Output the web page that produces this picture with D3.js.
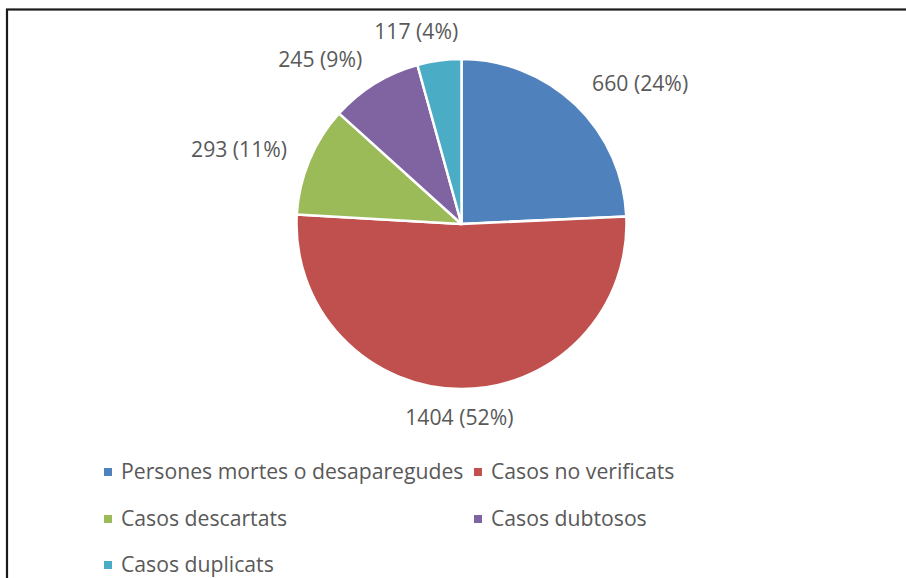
<!DOCTYPE html>
<html>
<head>
<meta charset="utf-8">
<script src="https://cdn.jsdelivr.net/npm/d3@7"></script>
<style>
  body { margin: 0; background: #fff; }
  svg text { font-family: "Open Sans", sans-serif; fill: #595959; }
</style>
</head>
<body>
<svg id="chart" width="906" height="578"></svg>
<script>
// data
const categories = ["Persones mortes o desaparegudes", "Casos no verificats", "Casos descartats", "Casos dubtosos", "Casos duplicats"];
const values = [660, 1404, 293, 245, 117];
const percentLabels = ["24%", "52%", "11%", "9%", "4%"];
const colors = ["#4F81BD", "#C0504D", "#9BBB59", "#8064A2", "#4BACC6"];

const svg = d3.select("#chart");
const cx = 461.5, cy = 224, radius = 165;
const fontSize = 21.2;

// frame border (only left and top show in the picture)
svg.append("rect")
  .attr("x", 7).attr("y", 9.5)
  .attr("width", 1000).attr("height", 1000)
  .attr("fill", "none")
  .attr("stroke", "#1a1a1a")
  .attr("stroke-width", 2.2);

const data = categories.map((c, i) => ({ name: c, value: values[i], pct: percentLabels[i], color: colors[i] }));

const pie = d3.pie().sort(null).value(d => d.value);
const arc = d3.arc().innerRadius(0).outerRadius(radius);

const chart = svg.append("g").attr("transform", `translate(${cx},${cy})`);

const arcs = pie(data);

chart.selectAll("path.slice")
  .data(arcs)
  .enter().append("path")
  .attr("class", "slice")
  .attr("d", arc)
  .attr("fill", d => d.data.color)
  .attr("stroke", "#fff")
  .attr("stroke-width", 2.5)
  .attr("stroke-linejoin", "round");

// labels, placed outside the slice end
const gapX = 24, gapY = 16;
const clamp = v => Math.max(-1, Math.min(1, v));
arcs.forEach(d => {
  const mid = (d.startAngle + d.endAngle) / 2;
  const sn = Math.sin(mid), cs = Math.cos(mid);
  const px = (radius + gapX) * sn, py = -(radius + gapY) * cs;
  const t = chart.append("text")
    .attr("font-size", fontSize)
    .text(`${d.data.value} (${d.data.pct})`);
  const w = t.node().getComputedTextLength(), h = fontSize * 1.2;
  const s = clamp(sn * 3.5);
  const left = px - w * (1 - s) / 2;
  const top = py - h * (1 + cs) / 2;
  t.attr("x", left).attr("y", top + h / 2).attr("dy", "0.35em");
});

// legend
const legendCols = [108, 478];
const legendRows = [472, 519, 565];
const legend = svg.append("g").attr("class", "legend");
data.forEach((d, i) => {
  const x = legendCols[i % 2], y = legendRows[Math.floor(i / 2)];
  legend.append("rect")
    .attr("x", x - 4).attr("y", y - 4)
    .attr("width", 8).attr("height", 8)
    .attr("fill", d.color);
  legend.append("text")
    .attr("x", x + 13).attr("y", y)
    .attr("dy", "0.35em")
    .attr("font-size", fontSize)
    .text(d.name);
});
</script>
</body>
</html>
